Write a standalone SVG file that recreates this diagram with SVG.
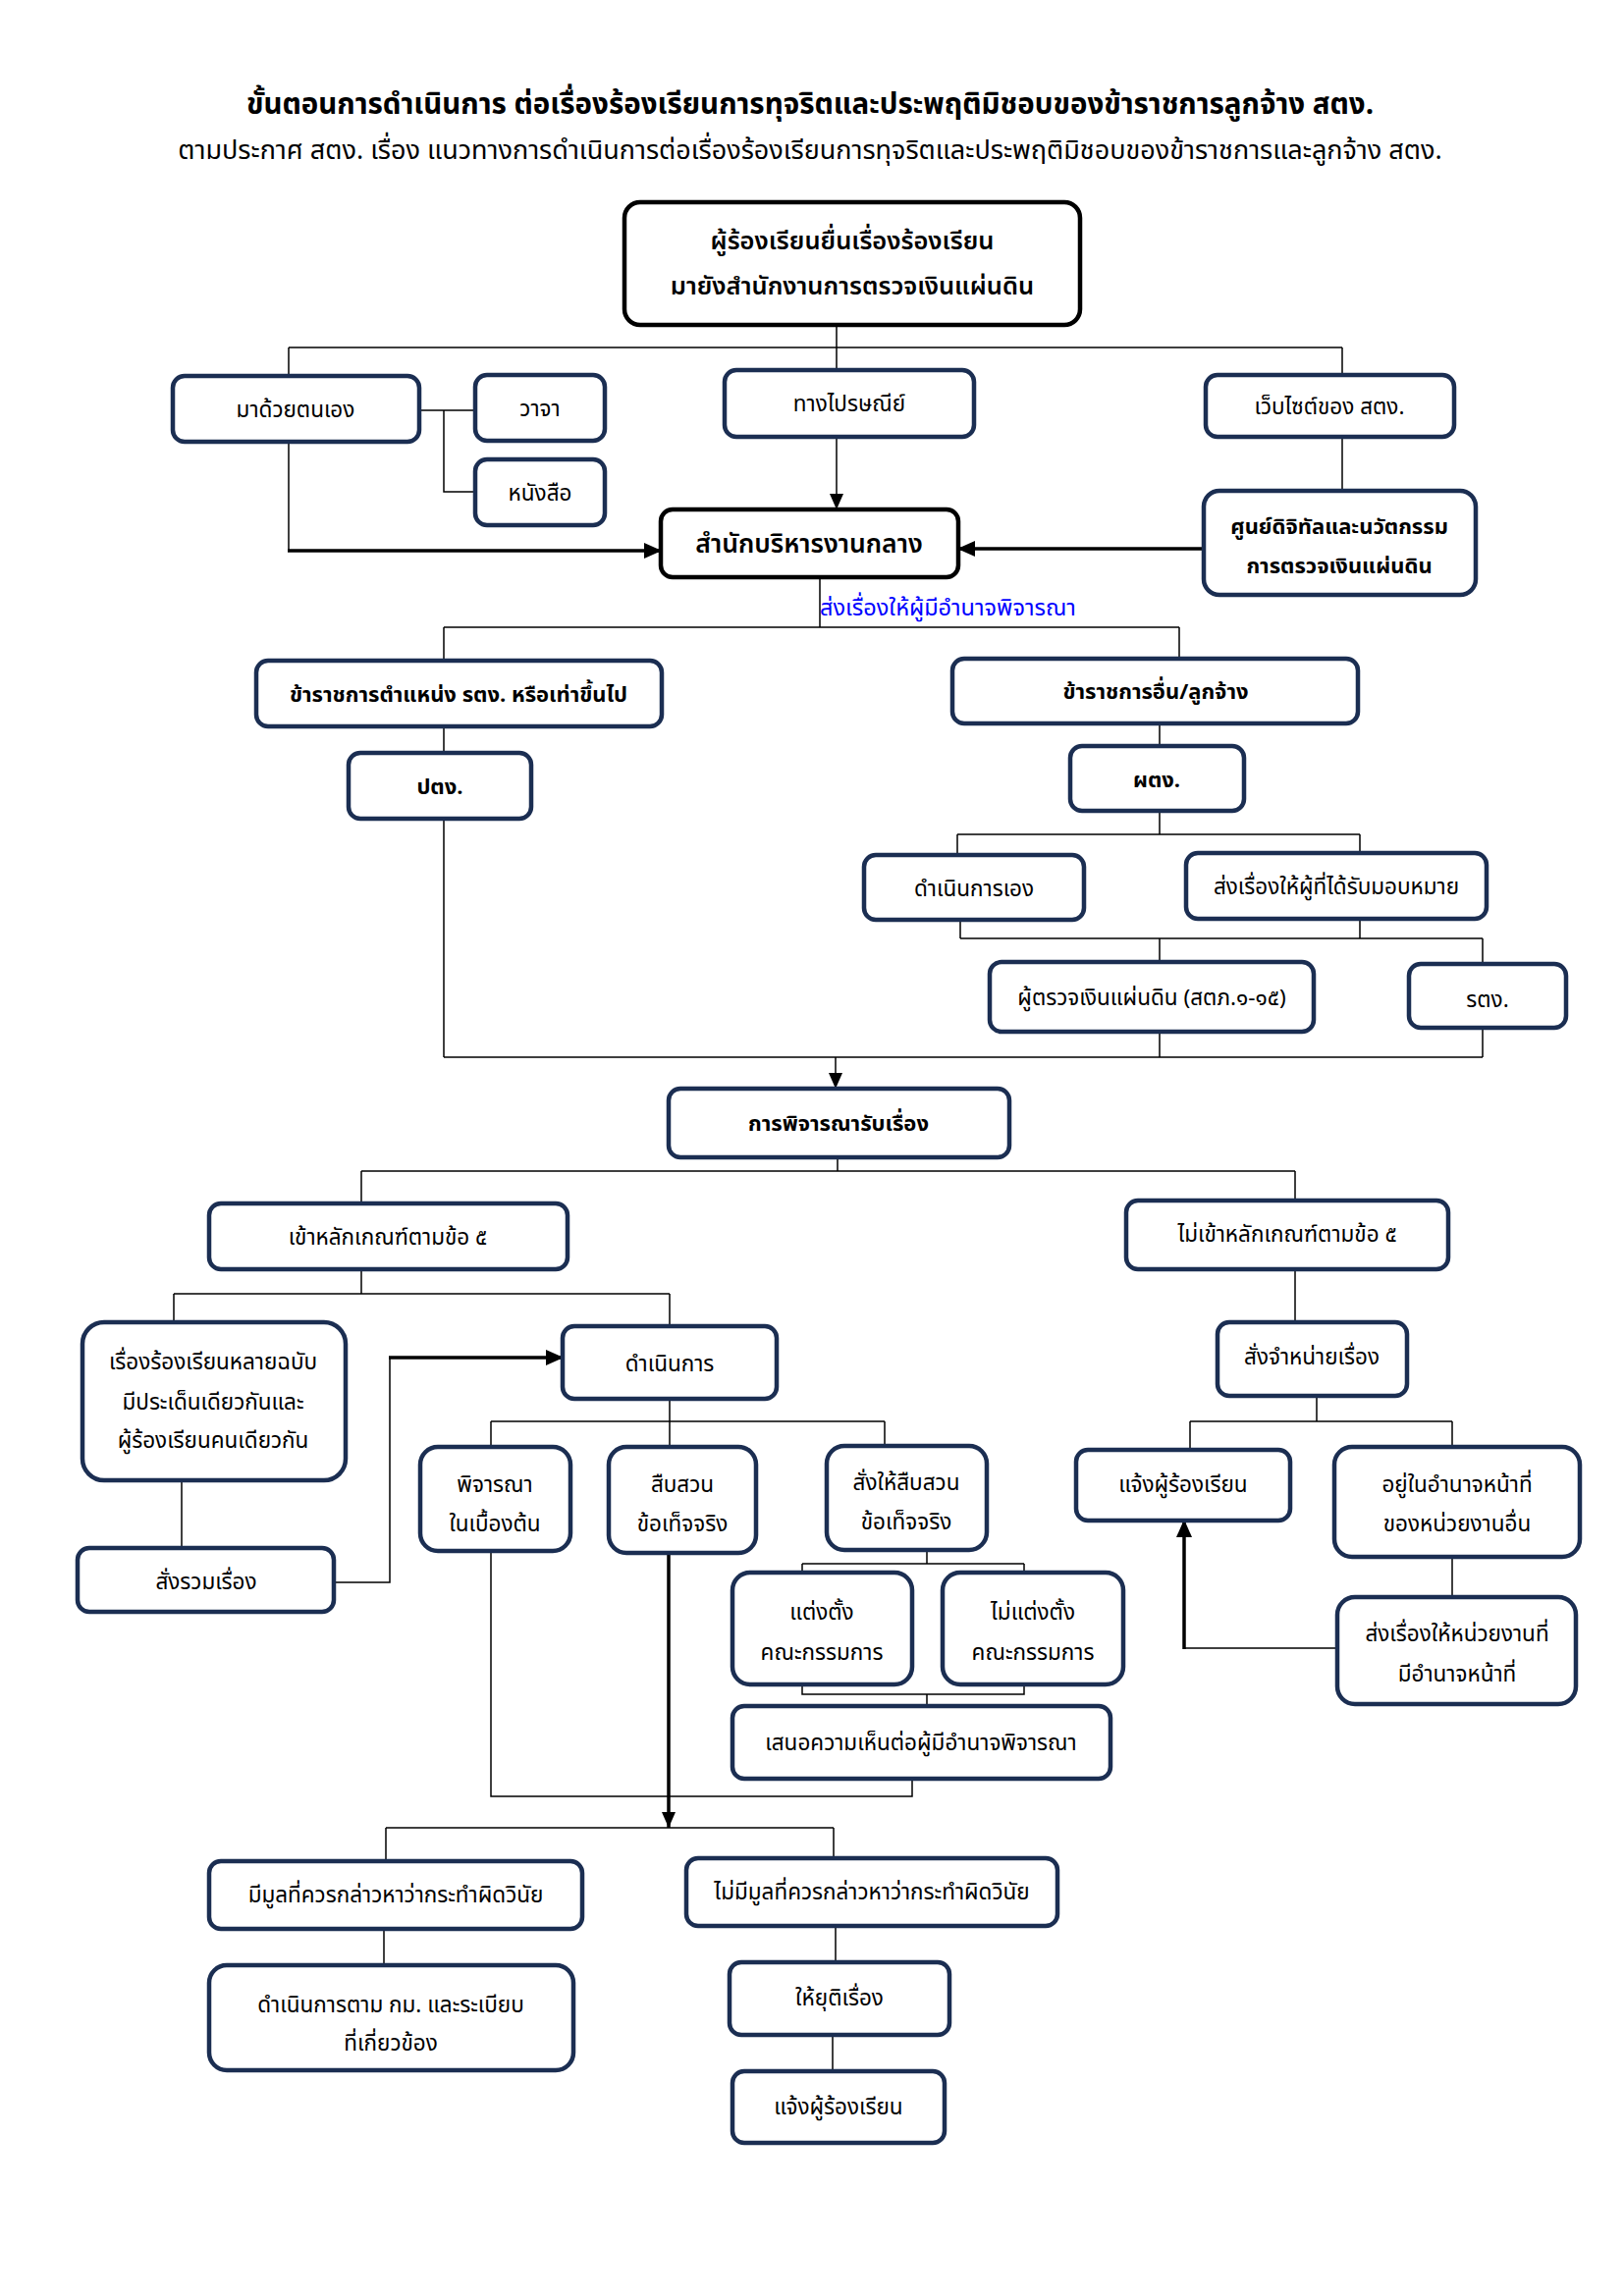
<svg xmlns="http://www.w3.org/2000/svg" width="1654" height="2339" viewBox="0 0 1654 2339">
<defs>
<marker id="ah" markerUnits="userSpaceOnUse" markerWidth="18" markerHeight="16" refX="17" refY="8" orient="auto">
<path d="M0,0 L18,8 L0,16 z" fill="#000"/>
</marker>
<marker id="ahs" markerUnits="userSpaceOnUse" markerWidth="16" markerHeight="14" refX="16" refY="7" orient="auto">
<path d="M0,0 L16,7 L0,14 z" fill="#000"/>
</marker>
</defs>
<style>
text{font-family:"Noto Sans Thai","Noto Sans Thai UI","Loma","Garuda","Noto Sans",sans-serif;fill:#000;text-anchor:middle;dominant-baseline:central}
.t{font-size:22.5px}
.b{font-size:22px;font-weight:bold}
.big{font-size:25.5px;font-weight:600}
.cen{font-size:26.5px;font-weight:600}
.bx{fill:#fff;stroke:#1b2e52;stroke-width:4.5}
.bk{fill:#fff;stroke:#000;stroke-width:4.5}
.c{fill:none;stroke:#000;stroke-width:1.5}
.a{fill:none;stroke:#000;stroke-width:3.5}
.title{font-size:29.5px;font-weight:bold}
.sub{font-size:27px}
.blue{fill:#0000ff;font-size:23.5px;text-anchor:start}
</style>
<rect width="1654" height="2339" fill="#fff"/>
<g id="title">
<text class="title" x="825" y="107">ขั้นตอนการดำเนินการ ต่อเรื่องร้องเรียนการทุจริตและประพฤติมิชอบของข้าราชการลูกจ้าง สตง.</text>
<text class="sub" x="825" y="153">ตามประกาศ สตง. เรื่อง แนวทางการดำเนินการต่อเรื่องร้องเรียนการทุจริตและประพฤติมิชอบของข้าราชการและลูกจ้าง สตง.</text>
</g>
<g id="connectors">
<path class="c" d="M852,331 V378 M294,354 H1367 M294,354 V383 M1367,354 V382"/>
<path class="c" d="M294,450 V561"/>
<path class="a" d="M293,561 H673" marker-end="url(#ah)"/>
<path class="c" d="M427,418 H484 M452,418 V501 H484"/>
<path class="c" d="M852,445 V519" marker-end="url(#ahs)"/>
<path class="c" d="M1367,445 V500"/>
<path class="a" d="M1226,559 H976" marker-end="url(#ah)"/>
<path class="c" d="M835,588 V639 M452,639 H1201 M452,639 V673 M1201,639 V671"/>
<path class="c" d="M452,740 V767 M1181,737 V760"/>
<path class="c" d="M1181,826 V850 M975,850 H1385 M975,850 V871 M1385,850 V869"/>
<path class="c" d="M978,937 V956 M1385,936 V956 M978,956 H1510 M1181,956 V980 M1510,956 V982"/>
<path class="c" d="M452,834 V1077 M1181,1051 V1077 M1510,1047 V1077 M452,1077 H1510"/>
<path class="c" d="M851,1077 V1109" marker-end="url(#ahs)"/>
<path class="c" d="M853,1179 V1193 M368,1193 H1319 M368,1193 V1226 M1319,1193 V1223"/>
<path class="c" d="M368,1293 V1318 M177,1318 H682 M177,1318 V1347 M682,1318 V1351"/>
<path class="c" d="M1319,1293 V1347"/>
<path class="c" d="M1341,1422 V1448 M1212,1448 H1479 M1212,1448 V1477 M1479,1448 V1474"/>
<path class="c" d="M185,1508 V1577"/>
<path class="c" d="M339,1612 H397 V1383"/>
<path class="a" d="M396,1383 H573" marker-end="url(#ah)"/>
<path class="c" d="M682,1425 V1448 M500,1448 H901 M500,1448 V1474 M682,1448 V1474 M901,1448 V1473"/>
<path class="c" d="M944,1579 V1593 M817,1593 H1043 M817,1593 V1602 M1043,1593 V1602"/>
<path class="c" d="M817,1716 V1726 H1043 V1716 M944,1726 V1738"/>
<path class="c" d="M500,1579 V1830 H929 V1812"/>
<path class="a" d="M681,1582 V1862" marker-end="url(#ahs)"/>
<path class="c" d="M393,1862 H849 M393,1862 V1896 M849,1862 V1893"/>
<path class="c" d="M391,1965 V2002"/>
<path class="c" d="M851,1962 V1999 M848,2073 V2110"/>
<path class="c" d="M1479,1586 V1627"/>
<path class="c" d="M1362,1679 H1206"/>
<path class="a" d="M1206,1680 V1549" marker-end="url(#ah)"/>
</g>
<g id="n_top"><rect class="bk" x="636" y="206" width="464" height="125" rx="16"/><text class="big" x="868" y="246">ผู้ร้องเรียนยื่นเรื่องร้องเรียน</text><text class="big" x="868" y="292">มายังสำนักงานการตรวจเงินแผ่นดิน</text></g>
<g id="n_self"><rect class="bx" x="176" y="383" width="251" height="67" rx="12"/><text class="t" x="301" y="418">มาด้วยตนเอง</text></g>
<g id="n_verbal"><rect class="bx" x="484" y="382" width="132" height="67" rx="12"/><text class="t" x="550" y="417">วาจา</text></g>
<g id="n_letter"><rect class="bx" x="484" y="468" width="132" height="67" rx="12"/><text class="t" x="550" y="503">หนังสือ</text></g>
<g id="n_post"><rect class="bx" x="738" y="377" width="254" height="68" rx="12"/><text class="t" x="865" y="412">ทางไปรษณีย์</text></g>
<g id="n_web"><rect class="bx" x="1228" y="382" width="253" height="63" rx="12"/><text class="t" x="1354" y="415">เว็บไซต์ของ สตง.</text></g>
<g id="n_digital"><rect class="bx" x="1226" y="500" width="277" height="106" rx="16"/><text class="b" x="1364" y="537">ศูนย์ดิจิทัลและนวัตกรรม</text><text class="b" x="1364" y="577">การตรวจเงินแผ่นดิน</text></g>
<g id="n_central"><rect class="bk" x="673" y="519" width="303" height="69" rx="12"/><text class="cen" x="824" y="555">สำนักบริหารงานกลาง</text></g>
<g id="l_send"><text class="blue" x="835" y="620">ส่งเรื่องให้ผู้มีอำนาจพิจารณา</text></g>
<g id="n_senior"><rect class="bx" x="261" y="673" width="413" height="67" rx="12"/><text class="b" x="467" y="708">ข้าราชการตำแหน่ง รตง. หรือเท่าขึ้นไป</text></g>
<g id="n_other"><rect class="bx" x="970" y="671" width="413" height="66" rx="12"/><text class="b" x="1177" y="705">ข้าราชการอื่น/ลูกจ้าง</text></g>
<g id="n_ptg"><rect class="bx" x="355" y="767" width="186" height="67" rx="12"/><text class="b" x="448" y="802">ปตง.</text></g>
<g id="n_ptg2"><rect class="bx" x="1090" y="760" width="177" height="66" rx="12"/><text class="b" x="1178" y="795">ผตง.</text></g>
<g id="n_selfop"><rect class="bx" x="880" y="871" width="224" height="66" rx="12"/><text class="t" x="992" y="906">ดำเนินการเอง</text></g>
<g id="n_assign"><rect class="bx" x="1208" y="869" width="306" height="67" rx="12"/><text class="t" x="1361" y="904">ส่งเรื่องให้ผู้ที่ได้รับมอบหมาย</text></g>
<g id="n_auditor"><rect class="bx" x="1008" y="980" width="330" height="71" rx="12"/><text class="t" x="1173" y="1017">ผู้ตรวจเงินแผ่นดิน (สตภ.๑-๑๕)</text></g>
<g id="n_rtg"><rect class="bx" x="1435" y="982" width="160" height="65" rx="12"/><text class="t" x="1515" y="1019">รตง.</text></g>
<g id="n_consider"><rect class="bx" x="681" y="1109" width="347" height="70" rx="12"/><text class="b" x="854" y="1145">การพิจารณารับเรื่อง</text></g>
<g id="n_meet"><rect class="bx" x="213" y="1226" width="365" height="67" rx="12"/><text class="t" x="395" y="1261">เข้าหลักเกณฑ์ตามข้อ ๕</text></g>
<g id="n_notmeet"><rect class="bx" x="1147" y="1223" width="328" height="70" rx="12"/><text class="t" x="1311" y="1258">ไม่เข้าหลักเกณฑ์ตามข้อ ๕</text></g>
<g id="n_multi"><rect class="bx" x="84" y="1347" width="268" height="161" rx="22"/><text class="t" x="217" y="1388">เรื่องร้องเรียนหลายฉบับ</text><text class="t" x="217" y="1429">มีประเด็นเดียวกันและ</text><text class="t" x="217" y="1468">ผู้ร้องเรียนคนเดียวกัน</text></g>
<g id="n_merge"><rect class="bx" x="79" y="1577" width="261" height="65" rx="12"/><text class="t" x="210" y="1612">สั่งรวมเรื่อง</text></g>
<g id="n_proceed"><rect class="bx" x="573" y="1351" width="218" height="74" rx="12"/><text class="t" x="682" y="1390">ดำเนินการ</text></g>
<g id="n_prelim"><rect class="bx" x="428" y="1474" width="153" height="106" rx="18"/><text class="t" x="504" y="1513">พิจารณา</text><text class="t" x="504" y="1553">ในเบื้องต้น</text></g>
<g id="n_invest"><rect class="bx" x="620" y="1474" width="150" height="108" rx="18"/><text class="t" x="695" y="1513">สืบสวน</text><text class="t" x="695" y="1553">ข้อเท็จจริง</text></g>
<g id="n_order"><rect class="bx" x="842" y="1473" width="163" height="106" rx="18"/><text class="t" x="923" y="1511">สั่งให้สืบสวน</text><text class="t" x="923" y="1551">ข้อเท็จจริง</text></g>
<g id="n_appoint"><rect class="bx" x="746" y="1602" width="183" height="114" rx="18"/><text class="t" x="837" y="1643">แต่งตั้ง</text><text class="t" x="837" y="1684">คณะกรรมการ</text></g>
<g id="n_noappoint"><rect class="bx" x="960" y="1602" width="184" height="114" rx="18"/><text class="t" x="1052" y="1643">ไม่แต่งตั้ง</text><text class="t" x="1052" y="1684">คณะกรรมการ</text></g>
<g id="n_opinion"><rect class="bx" x="746" y="1738" width="385" height="74" rx="12"/><text class="t" x="938" y="1776">เสนอความเห็นต่อผู้มีอำนาจพิจารณา</text></g>
<g id="n_dispose"><rect class="bx" x="1240" y="1347" width="193" height="75" rx="12"/><text class="t" x="1336" y="1383">สั่งจำหน่ายเรื่อง</text></g>
<g id="n_notify1"><rect class="bx" x="1096" y="1477" width="218" height="72" rx="12"/><text class="t" x="1205" y="1513">แจ้งผู้ร้องเรียน</text></g>
<g id="n_otheragency"><rect class="bx" x="1359" y="1474" width="250" height="112" rx="18"/><text class="t" x="1484" y="1513">อยู่ในอำนาจหน้าที่</text><text class="t" x="1484" y="1553">ของหน่วยงานอื่น</text></g>
<g id="n_forward"><rect class="bx" x="1362" y="1627" width="243" height="109" rx="18"/><text class="t" x="1484" y="1665">ส่งเรื่องให้หน่วยงานที่</text><text class="t" x="1484" y="1706">มีอำนาจหน้าที่</text></g>
<g id="n_grounds"><rect class="bx" x="213" y="1896" width="380" height="69" rx="12"/><text class="t" x="403" y="1931">มีมูลที่ควรกล่าวหาว่ากระทำผิดวินัย</text></g>
<g id="n_nogrounds"><rect class="bx" x="699" y="1893" width="378" height="69" rx="12"/><text class="t" x="888" y="1928">ไม่มีมูลที่ควรกล่าวหาว่ากระทำผิดวินัย</text></g>
<g id="n_law"><rect class="bx" x="213" y="2002" width="371" height="107" rx="18"/><text class="t" x="398" y="2043">ดำเนินการตาม กม. และระเบียบ</text><text class="t" x="398" y="2082">ที่เกี่ยวข้อง</text></g>
<g id="n_end"><rect class="bx" x="743" y="1999" width="224" height="74" rx="12"/><text class="t" x="855" y="2036">ให้ยุติเรื่อง</text></g>
<g id="n_notify2"><rect class="bx" x="746" y="2110" width="216" height="73" rx="12"/><text class="t" x="854" y="2147">แจ้งผู้ร้องเรียน</text></g>
</svg>
